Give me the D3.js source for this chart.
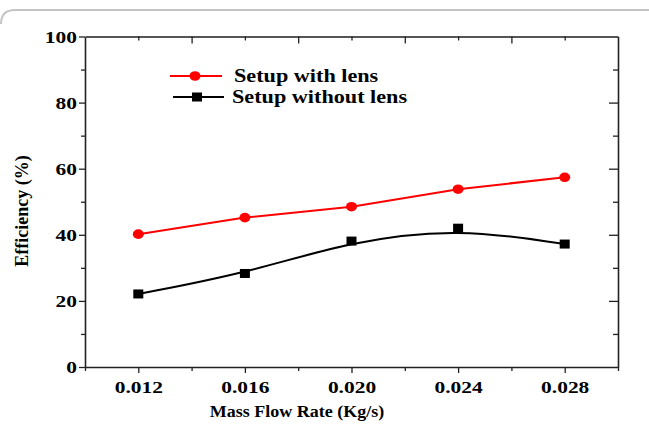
<!DOCTYPE html>
<html><head><meta charset="utf-8">
<script src="https://cdn.jsdelivr.net/npm/d3@7"></script>
<style>body{margin:0;background:#fff}svg{display:block}text{font-family:"Liberation Serif","Times New Roman",serif;font-weight:bold;fill:#000}</style>
</head><body>
<script>
const flowRates = [0.012, 0.016, 0.020, 0.024, 0.028];
const withLens = [40.2, 45.2, 48.5, 53.8, 57.4];
const withoutLens = [22.1, 28.3, 38.1, 42.0, 37.2];
const seriesNames = ["Setup with lens", "Setup without lens"];
const xTicks = [0.012, 0.016, 0.020, 0.024, 0.028];
const yTicks = [0, 20, 40, 60, 80, 100];
const xTitle = "Mass Flow Rate (Kg/s)";
const yTitle = "Efficiency (%)";

const W = 649, H = 428;
const svg = d3.select("body").append("svg").attr("width", W).attr("height", H);
const L = 85, R = 618, T = 36.5, B = 367;
const x = d3.scaleLinear().domain([0.010, 0.030]).range([L, R]);
const y = d3.scaleLinear().domain([0, 100]).range([B, T]);
const SX = 1.2, TX = 1.3;

// outer frame line
svg.append("path").attr("d", `M1,24 Q1,10 15,10 L${W},10`).attr("fill","none").attr("stroke","#c4c4c4").attr("stroke-width",2);

const ax = "#222";
// bottom axis
const botAx = svg.append("g").attr("transform", `translate(0,${B})`)
  .call(d3.axisBottom(x).tickValues(xTicks).tickFormat(d3.format(".3f")).tickSize(6).tickSizeOuter(0));
botAx.selectAll("text").attr("font-size", 16.5).attr("dy", "0").attr("y", 26).attr("x", 0)
  .attr("transform", `scale(${TX},1)`);
const botMinor = svg.append("g").attr("transform", `translate(0,${B})`)
  .call(d3.axisBottom(x).tickValues([0.010,0.014,0.018,0.022,0.026,0.030]).tickFormat("").tickSize(4).tickSizeOuter(0));
botMinor.select(".domain").remove();
// left axis
const leftAx = svg.append("g").attr("transform", `translate(${L},0)`)
  .call(d3.axisLeft(y).tickValues(yTicks).tickSize(6).tickSizeOuter(0));
leftAx.selectAll("text").attr("font-size", 16.5).attr("dy", "0.34em").attr("x", -8/TX).attr("transform", `scale(${TX},1)`);
const leftMinor = svg.append("g").attr("transform", `translate(${L},0)`)
  .call(d3.axisLeft(y).tickValues([10,30,50,70,90]).tickFormat("").tickSize(4).tickSizeOuter(0));
leftMinor.select(".domain").remove();
// top axis (inward ticks)
const topAx = svg.append("g").attr("transform", `translate(0,${T})`)
  .call(d3.axisBottom(x).tickValues([0.014,0.018,0.022,0.026]).tickFormat("").tickSize(7).tickSizeOuter(0));
const topMinor = svg.append("g").attr("transform", `translate(0,${T})`)
  .call(d3.axisBottom(x).tickValues([0.012,0.016,0.020,0.024,0.028]).tickFormat("").tickSize(4).tickSizeOuter(0));
topMinor.select(".domain").remove();
// right axis (inward ticks)
const rightAx = svg.append("g").attr("transform", `translate(${R},0)`)
  .call(d3.axisLeft(y).tickValues([20,40,60,80]).tickFormat("").tickSize(9).tickSizeOuter(0));
const rightMinor = svg.append("g").attr("transform", `translate(${R},0)`)
  .call(d3.axisLeft(y).tickValues([10,30,50,70,90]).tickFormat("").tickSize(5).tickSizeOuter(0));
rightMinor.select(".domain").remove();
svg.selectAll(".domain").attr("stroke", ax).attr("stroke-width", 1.6);
svg.selectAll(".tick line").attr("stroke", ax).attr("stroke-width", 1.3);
topAx.select(".domain").attr("stroke", "#555").attr("stroke-width", 2.2);

// titles
svg.append("text").attr("transform", `translate(297,417) scale(1.06,1)`).attr("text-anchor","middle").attr("font-size",17).text(xTitle);
svg.append("text").attr("transform", `translate(28,211) rotate(-90) scale(1,1.1)`).attr("text-anchor","middle").attr("font-size",18).text(yTitle);

// lines
const pts1 = flowRates.map((f,i)=>[x(f), y(withLens[i])]);
const pts2 = flowRates.map((f,i)=>[x(f), y(withoutLens[i])]);
svg.append("path").attr("d", d3.line().curve(d3.curveLinear)(pts1)).attr("fill","none").attr("stroke","#ff0000").attr("stroke-width",2);
svg.append("path").attr("d", d3.line().curve(d3.curveBasis)(pts2)).attr("fill","none").attr("stroke","#000").attr("stroke-width",2);
svg.selectAll(".c").data(pts1).enter().append("ellipse").attr("cx",d=>d[0]).attr("cy",d=>d[1]).attr("rx",5.5).attr("ry",4.8).attr("fill","#ff0000");
svg.selectAll(".s").data(pts2).enter().append("rect").attr("x",d=>d[0]-5).attr("y",d=>d[1]-4.5).attr("width",10).attr("height",9).attr("fill","#000");

// legend
const lg = svg.append("g");
lg.append("line").attr("x1",170).attr("x2",222).attr("y1",76).attr("y2",76).attr("stroke","#ff0000").attr("stroke-width",2);
lg.append("ellipse").attr("cx",195).attr("cy",76).attr("rx",5.5).attr("ry",4.8).attr("fill","#ff0000");
lg.append("text").attr("transform",`translate(234,82) scale(${SX},1)`).attr("font-size",18.5).text(seriesNames[0]);
lg.append("line").attr("x1",173).attr("x2",224).attr("y1",97).attr("y2",97).attr("stroke","#000").attr("stroke-width",2);
lg.append("rect").attr("x",192).attr("y",92.5).attr("width",10).attr("height",9).attr("fill","#000");
lg.append("text").attr("transform",`translate(232,103) scale(${SX},1)`).attr("font-size",18.5).text(seriesNames[1]);
</script>
</body></html>
